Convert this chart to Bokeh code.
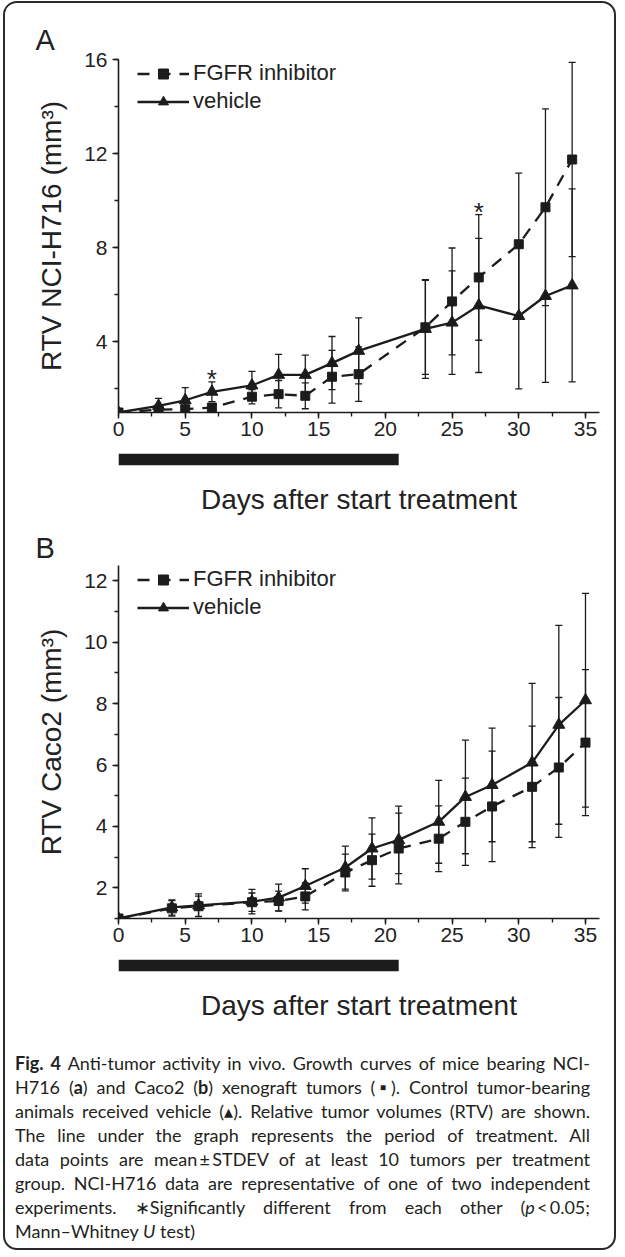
from bokeh.plotting import figure
from bokeh.models import (Range1d, SingleIntervalTicker, FixedTicker, Legend, LegendItem,
                          Whisker, TeeHead, ColumnDataSource, Title, Div)
from bokeh.layouts import column
from bokeh.core.properties import value
from bokeh.embed import file_html
from bokeh.resources import INLINE

# ---------------- data ----------------
# Panel A: NCI-H716
a_days = [0, 3, 5, 7, 10, 12, 14, 16, 18, 23, 25, 27, 30, 32, 34]
a_fgfr_mean = [1.0, 1.12, 1.14, 1.21, 1.67, 1.78, 1.71, 2.52, 2.63, 4.62, 5.72, 6.74, 8.15, 9.72, 11.75]
a_fgfr_sd = [0.0, 0.10, 0.12, 0.15, 0.30, 0.58, 0.55, 1.12, 1.16, 2.00, 2.27, 2.67, 3.02, 4.18, 4.13]
a_veh_mean = [1.0, 1.28, 1.52, 1.88, 2.15, 2.60, 2.60, 3.10, 3.62, 4.55, 4.82, 5.55, 5.10, 5.95, 6.40]
a_veh_sd = [0.0, 0.32, 0.54, 0.42, 0.60, 0.87, 0.84, 1.13, 1.40, 2.10, 2.20, 2.85, 3.10, 3.67, 4.10]
a_sig_days = [7, 27]

# Panel B: Caco2
b_days = [0, 4, 6, 10, 12, 14, 17, 19, 21, 24, 26, 28, 31, 33, 35]
b_fgfr_mean = [1.0, 1.33, 1.40, 1.53, 1.57, 1.72, 2.50, 2.90, 3.28, 3.60, 4.15, 4.65, 5.29, 5.92, 6.73]
b_fgfr_sd = [0.0, 0.25, 0.33, 0.30, 0.32, 0.44, 0.60, 0.85, 1.15, 1.07, 1.42, 1.80, 1.98, 2.28, 2.38]
b_veh_mean = [1.0, 1.36, 1.43, 1.55, 1.68, 2.06, 2.66, 3.28, 3.56, 4.15, 4.96, 5.35, 6.08, 7.31, 8.11]
b_veh_sd = [0.0, 0.25, 0.37, 0.40, 0.44, 0.56, 0.70, 1.00, 1.10, 1.35, 1.85, 1.85, 2.58, 3.24, 3.48]
b_sig_days = []

treatment_period = [0, 21]
series_labels = ["FGFR inhibitor", "vehicle"]
x_label = "Days after start treatment"

FONT = "Liberation Sans"
INK = "#1c1c1c"
TXT = "#222222"

FRAME_W = 481
FRAME_H = 353
BL = 113
BR = 5


def panel(letter, days, fm, fs, vm, vs, y_end, y_step, ylabel, sig_days, top_border, letter_standoff):
    p = figure(frame_width=FRAME_W, frame_height=FRAME_H,
               min_border_left=BL, min_border_right=BR,
               min_border_top=top_border, min_border_bottom=40,
               x_range=Range1d(0, 36.05), y_range=Range1d(1, y_end),
               output_backend="svg", toolbar_location=None, tools="")
    p.title = Title(text=letter, align="left", offset=-83, standoff=letter_standoff,
                    text_font=FONT, text_font_size="29px", text_font_style="normal",
                    text_color=TXT)
    p.outline_line_color = None
    p.grid.visible = False
    p.background_fill_color = "white"
    p.border_fill_color = "white"

    xa = p.xaxis[0]
    xa.ticker = SingleIntervalTicker(interval=5, num_minor_ticks=2)
    ya = p.yaxis[0]
    ya.ticker = SingleIntervalTicker(interval=y_step, num_minor_ticks=2)
    for ax in (xa, ya):
        ax.axis_line_color = INK
        ax.axis_line_width = 1.6
        ax.major_tick_line_color = INK
        ax.major_tick_line_width = 1.4
        ax.minor_tick_line_color = INK
        ax.minor_tick_line_width = 1.4
        ax.major_tick_out = 6
        ax.major_tick_in = 0
        ax.minor_tick_out = 4
        ax.minor_tick_in = 0
        ax.major_label_text_font = FONT
        ax.major_label_text_font_size = "21px"
        ax.major_label_text_color = TXT
    xa.major_label_standoff = 3
    ya.major_label_standoff = 5
    ya.axis_label = ylabel
    ya.axis_label_text_font = FONT
    ya.axis_label_text_font_size = "28px"
    ya.axis_label_text_font_style = "normal"
    ya.axis_label_text_color = TXT
    ya.axis_label_standoff = 14

    fsrc = ColumnDataSource(dict(x=days, lower=[m - s for m, s in zip(fm, fs)],
                                 upper=[m + s for m, s in zip(fm, fs)]))
    vsrc = ColumnDataSource(dict(x=days, lower=[m - s for m, s in zip(vm, vs)],
                                 upper=[m + s for m, s in zip(vm, vs)]))
    for src in (vsrc, fsrc):
        w = Whisker(source=src, base="x", upper="upper", lower="lower",
                    line_color=INK, line_width=1.3, level="glyph",
                    upper_head=TeeHead(size=7, line_color=INK, line_width=1.3),
                    lower_head=TeeHead(size=7, line_color=INK, line_width=1.3))
        p.add_layout(w)

    vl = p.line(days, vm, line_color=INK, line_width=2.3)
    vp = p.scatter(days, vm, marker="triangle", size=12, color=INK)
    fl = p.line(days, fm, line_color=INK, line_width=2.3, line_dash="12 9")
    fp = p.scatter(days, fm, marker="square", size=9, color=INK)

    if sig_days:
        sx, sy = [], []
        for d in sig_days:
            i = days.index(d)
            sx.append(d)
            sy.append(max(fm[i] + fs[i], vm[i] + vs[i]))
        p.text(x=sx, y=sy, text=["*"] * len(sx), text_font=value(FONT),
               text_font_size="26px", text_align="center", text_baseline="middle",
               y_offset=-3, text_color=TXT)

    leg = Legend(items=[LegendItem(label=series_labels[0], renderers=[fl, fp]),
                        LegendItem(label=series_labels[1], renderers=[vl, vp])],
                 location=(19, 298), margin=0, padding=0, spacing=2,
                 glyph_width=52, glyph_height=25, label_height=25, label_standoff=4,
                 label_text_font=FONT, label_text_font_size="22px",
                 label_text_color=TXT, background_fill_alpha=0,
                 border_line_color=None)
    p.add_layout(leg)
    return p


def strip(x_range):
    s = figure(frame_width=FRAME_W, frame_height=12,
               min_border_left=BL, min_border_right=BR,
               min_border_top=1, min_border_bottom=62,
               x_range=x_range, y_range=Range1d(0, 1), y_axis_location=None,
               output_backend="svg", toolbar_location=None, tools="")
    s.outline_line_color = None
    s.grid.visible = False
    s.quad(left=[treatment_period[0]], right=[treatment_period[1]], bottom=[0], top=[1],
           color=INK, line_width=0)
    ax = s.xaxis[0]
    ax.ticker = FixedTicker(ticks=[])
    ax.axis_line_color = None
    ax.major_tick_line_color = None
    ax.minor_tick_line_color = None
    ax.major_tick_out = 0
    ax.major_label_standoff = 0
    ax.axis_label = x_label
    ax.axis_label_text_font = FONT
    ax.axis_label_text_font_size = "28px"
    ax.axis_label_text_font_style = "normal"
    ax.axis_label_text_color = TXT
    ax.axis_label_standoff = 18
    return s


pa = panel("A", a_days, a_fgfr_mean, a_fgfr_sd, a_veh_mean, a_veh_sd, 16, 4,
           "RTV NCI-H716 (mm\u00b3)", a_sig_days, 56, 8)
sa = strip(pa.x_range)
pb = panel("B", b_days, b_fgfr_mean, b_fgfr_sd, b_veh_mean, b_veh_sd, 12.5, 2,
           "RTV Caco2 (mm\u00b3)", b_sig_days, 38, 4)
sb = strip(pb.x_range)

cap_lines = [
    "<b>Fig. 4</b> Anti-tumor activity in vivo. Growth curves of mice bearing NCI-",
    "H716 (<b>a</b>) and Caco2 (<b>b</b>) xenograft tumors (\u25aa). Control tumor-bearing",
    "animals received vehicle (\u25b4). Relative tumor volumes (RTV) are shown.",
    "The line under the graph represents the period of treatment. All",
    "data points are mean\u2009\u00b1\u2009STDEV of at least 10 tumors per treatment",
    "group. NCI-H716 data are representative of one of two independent",
    "experiments. \u2217Significantly different from each other (<i>p</i>\u2009&lt;\u20090.05;",
]
last_line = "Mann\u2013Whitney <i>U</i> test)"
html = ('<div style="font-family:Lato,\'Open Sans\',sans-serif;font-size:18px;line-height:24px;'
        'color:#231f20;padding:13px 7px 0 5px;width:587px;">')
for ln in cap_lines:
    html += '<div style="text-align:justify;text-align-last:justify;">' + ln + '</div>'
html += '<div style="text-align:left;">' + last_line + '</div></div>'
cap = Div(text=html, width=599, height=205)

layout = column(pa, sa, pb, sb, cap,
                styles={"border": "2px solid #2a2a2a", "border-radius": "14px",
                        "margin-left": "3px", "margin-top": "1px", "background": "white",
                        "overflow": "hidden"})

open("out.html", "w").write(file_html(layout, INLINE))
